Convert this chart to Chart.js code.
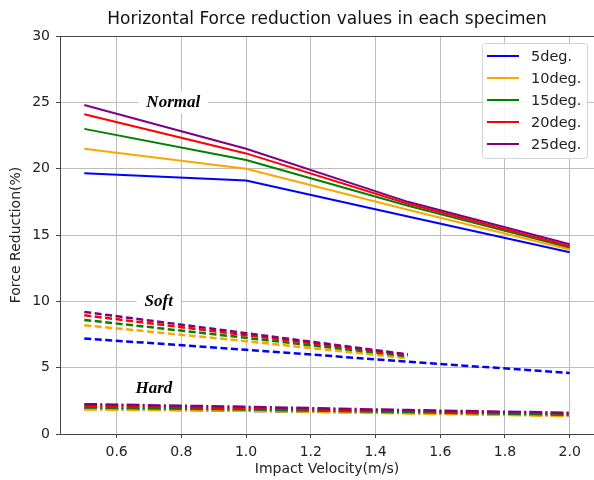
<!DOCTYPE html>
<html lang="en">

<head>
    <meta charset="UTF-8">
    <title>Horizontal Force reduction</title>
    <script src="https://cdn.jsdelivr.net/npm/chart.js"></script>
    <style>
        body { margin: 0; background: #fff; }
    </style>
</head>

<body>
    <canvas id="graficoForca" width="594" height="480"></canvas>

<script>
    // dados
    const velocidades = [0.5, 1.0, 1.5, 2.0]
    const velocidadesSoft = [0.5, 1.0, 1.5]
    const angulos = ['5deg.', '10deg.', '15deg.', '20deg.', '25deg.']
    const cores = ['#0000ff', '#ffa500', '#008000', '#ff0000', '#800080']
    const ticksX = [0.6, 0.8, 1.0, 1.2, 1.4, 1.6, 1.8, 2.0]

    const normal5 = [19.65, 19.1, 16.4, 13.7]
    const normal10 = [21.5, 20.0, 16.9, 13.9]
    const normal15 = [23.0, 20.65, 17.2, 14.05]
    const normal20 = [24.1, 21.15, 17.35, 14.15]
    const normal25 = [24.8, 21.5, 17.5, 14.3]

    const soft5 = [7.2, 6.35, 5.45, 4.6]
    const soft10 = [8.2, 7.0, 5.7]
    const soft15 = [8.6, 7.25, 5.85]
    const soft20 = [8.95, 7.45, 5.95]
    const soft25 = [9.2, 7.6, 6.0]

    const hard5 = [1.9, 1.75, 1.6, 1.4]
    const hard10 = [1.85, 1.75, 1.55, 1.35]
    const hard15 = [2.0, 1.85, 1.65, 1.45]
    const hard20 = [2.15, 1.95, 1.75, 1.55]
    const hard25 = [2.25, 2.05, 1.8, 1.6]

    const rotulos = ['Normal', 'Soft', 'Hard']
    const rotulosX = [0.775, 0.73, 0.715]
    const rotulosY = [25, 10, 3.4]

    const titulo = 'Horizontal Force reduction values in each specimen'

    const grupos = [
        { series: [normal5, normal10, normal15, normal20, normal25], dash: [], largura: 2 },
        { series: [soft5, soft10, soft15, soft20, soft25], dash: [7, 3.5], largura: 2.5 },
        { series: [hard5, hard10, hard15, hard20, hard25], dash: [12.8, 3.2, 2, 3.2], largura: 2.5 }
    ]

    let datasets = []
    for (let g = 0; g < grupos.length; g++) {
        for (let i = 0; i < angulos.length; i++) {
            let valores = grupos[g].series[i]
            let xs = valores.length == 4 ? velocidades : velocidadesSoft
            datasets.push({
                label: angulos[i],
                data: valores.map(function (v, k) { return { x: xs[k], y: v } }),
                borderColor: cores[i],
                backgroundColor: cores[i],
                borderWidth: grupos[g].largura,
                borderDash: grupos[g].dash,
                pointRadius: 0,
                tension: 0,
                fill: false,
                order: 100 - (g * 10 + i)
            })
        }
    }

    const extras = {
        id: 'extras',
        afterDatasetsDraw(chart) {
            const ctx = chart.ctx
            const area = chart.chartArea
            const x = chart.scales.x
            const y = chart.scales.y

            ctx.save()

            // borda de cima
            ctx.strokeStyle = '#444'
            ctx.lineWidth = 1
            ctx.beginPath()
            ctx.moveTo(area.left, area.top + 0.5)
            ctx.lineTo(area.right, area.top + 0.5)
            ctx.stroke()

            // titulo
            ctx.fillStyle = '#111'
            ctx.font = '17px "DejaVu Sans"'
            ctx.textAlign = 'center'
            ctx.textBaseline = 'alphabetic'
            ctx.fillText(titulo, (area.left + area.right) / 2, 24)

            // rotulos Normal / Soft / Hard
            ctx.font = 'italic bold 17px "Liberation Serif", "DejaVu Serif", serif'
            ctx.textBaseline = 'middle'
            for (let i = 0; i < rotulos.length; i++) {
                let px = x.getPixelForValue(rotulosX[i])
                let py = y.getPixelForValue(rotulosY[i])
                let w = ctx.measureText(rotulos[i]).width
                ctx.fillStyle = '#fff'
                ctx.fillRect(px - w / 2 - 8, py - 11, w + 16, 22)
                ctx.fillStyle = '#000'
                ctx.fillText(rotulos[i], px, py)
            }

            // legenda
            let lx = 482, ly = 43, lw = 105, lh = 115
            ctx.globalAlpha = 0.85
            ctx.fillStyle = '#fff'
            ctx.strokeStyle = '#cccccc'
            ctx.beginPath()
            ctx.roundRect(lx + 0.5, ly + 0.5, lw, lh, 3)
            ctx.fill()
            ctx.stroke()
            ctx.globalAlpha = 1
            ctx.font = '14.5px "DejaVu Sans"'
            ctx.textAlign = 'left'
            ctx.textBaseline = 'middle'
            for (let i = 0; i < angulos.length; i++) {
                let yy = 56 + i * 22
                ctx.strokeStyle = cores[i]
                ctx.lineWidth = 2
                ctx.beginPath()
                ctx.moveTo(487, yy)
                ctx.lineTo(519, yy)
                ctx.stroke()
                ctx.fillStyle = '#222'
                ctx.fillText(angulos[i], 531, yy + 1)
            }

            ctx.restore()
        }
    }

    new Chart(document.getElementById('graficoForca'), {
        type: 'line',
        data: { datasets: datasets },
        options: {
            responsive: false,
            animation: false,
            devicePixelRatio: 1,
            layout: { padding: { top: 36, right: 0, left: 0, bottom: 0 } },
            plugins: {
                legend: { display: false },
                title: { display: false },
                tooltip: { enabled: false }
            },
            scales: {
                x: {
                    type: 'linear',
                    min: 0.425,
                    max: 2.075,
                    afterBuildTicks: function (scale) {
                        scale.ticks = ticksX.map(function (v) { return { value: v } })
                    },
                    afterFit: function (scale) { scale.height = 46 },
                    ticks: {
                        callback: function (v) { return Number(v).toFixed(1) },
                        color: '#222',
                        font: { family: 'DejaVu Sans', size: 14 },
                        padding: 6,
                        maxRotation: 0
                    },
                    grid: { color: '#bdbdbd', tickColor: '#444', tickLength: 4 },
                    border: { color: '#444', width: 1 },
                    title: {
                        display: true,
                        text: 'Impact Velocity(m/s)',
                        color: '#222',
                        font: { family: 'DejaVu Sans', size: 14 },
                        padding: { top: 2, bottom: 2 }
                    }
                },
                y: {
                    min: 0,
                    max: 30,
                    afterFit: function (scale) { scale.width = 60 },
                    ticks: {
                        stepSize: 5,
                        color: '#222',
                        font: { family: 'DejaVu Sans', size: 14 },
                        padding: 6
                    },
                    grid: { color: '#bdbdbd', tickColor: '#444', tickLength: 4 },
                    border: { color: '#444', width: 1 },
                    title: {
                        display: true,
                        text: 'Force Reduction(%)',
                        color: '#222',
                        font: { family: 'DejaVu Sans', size: 14 },
                        padding: { top: 8, bottom: 0 }
                    }
                }
            }
        },
        plugins: [extras]
    })
</script>
</body>

</html>
